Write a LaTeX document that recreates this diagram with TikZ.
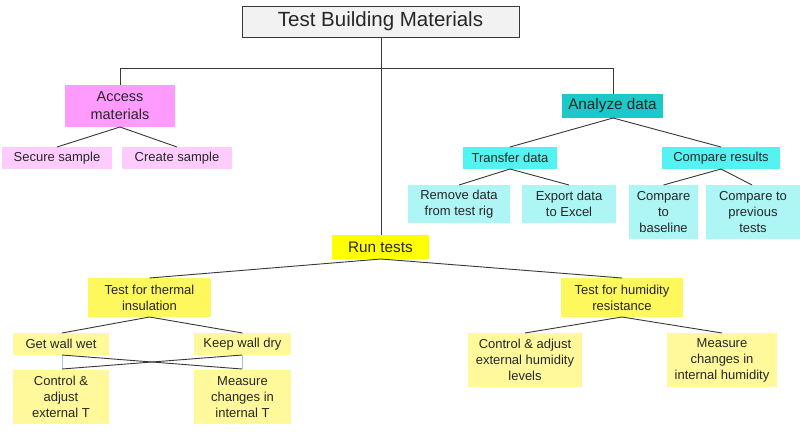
\documentclass[tikz,border=0pt]{standalone}
\usepackage{fontspec}
\setmainfont{Liberation Sans}
\definecolor{titlefill}{HTML}{F2F2F2}
\definecolor{pinkA}{HTML}{FF9BFF}
\definecolor{pinkB}{HTML}{FFCCFF}
\definecolor{tealA}{HTML}{1CC8C8}
\definecolor{cyanB}{HTML}{55F2F2}
\definecolor{cyanC}{HTML}{AEF5F5}
\definecolor{yelA}{HTML}{FFFF00}
\definecolor{yelB}{HTML}{FFF85C}
\definecolor{yelC}{HTML}{FFF99C}
\definecolor{linecol}{HTML}{383838}
\definecolor{bluish}{HTML}{A8C4DC}
\tikzset{
  box/.style={inner sep=0pt, outer sep=0pt, align=center, font=\fontsize{13}{16}\selectfont, text=black!85},
  bigtext/.style={font=\fontsize{14.5}{18}\selectfont},
  midtext/.style={font=\fontsize{15.3}{17}\selectfont},
  conn/.style={draw=linecol, line width=0.9pt},
}
\newcommand{\bx}[8][]{% [opts] name, x1, y1, x2, y2, fill, text
  \fill[#7] (#3,#4) rectangle (#5,#6);
  \node[box, #1, minimum width={(#5-#3)*1pt}, minimum height={(#6-#4)*1pt}] (#2) at ({(#3+#5)/2},{(#4+#6)/2}) {#8};
}
\begin{document}
\begin{tikzpicture}[x=1pt,y=-1pt]
\useasboundingbox (0,0) rectangle (800,445);
\fill[white] (0,0) rectangle (800,445);
% title
\draw[fill=titlefill, draw=linecol, line width=0.9pt] (242,6) rectangle (519,37);
\node[box, font=\fontsize{20.5}{23}\selectfont, minimum width=277pt, minimum height=31pt] (title) at (380.5,21.5) {Test Building Materials};
% boxes
\bx[bigtext]{access}{65}{85}{175}{127}{pinkA}{Access\\materials}
\bx{secure}{2}{147}{112}{169}{pinkB}{Secure sample}
\bx{create}{122}{147}{232}{169}{pinkB}{Create sample}
\bx[midtext]{analyze}{562}{94}{663}{118}{tealA}{Analyze data}
\bx{transfer}{463}{147}{557}{169}{cyanB}{Transfer data}
\bx{compres}{662}{147}{780}{169}{cyanB}{Compare results}
\bx{remove}{408}{185}{510}{223}{cyanC}{Remove data\\from test rig}
\bx{export}{522}{185}{616}{223}{cyanC}{Export data\\to Excel}
\bx{baseline}{629}{185}{698}{239}{cyanC}{Compare\\to\\baseline}
\bx{previous}{706}{185}{800}{239}{cyanC}{Compare to\\previous\\tests}
\bx[midtext]{run}{332}{235}{429}{259}{yelA}{Run tests}
\bx{thermal}{88}{278}{211}{317}{yelB}{Test for thermal\\insulation}
\bx{humid}{561}{278}{683}{317}{yelB}{Test for humidity\\resistance}
\bx{wet}{13}{333}{109}{355}{yelC}{Get wall wet}
\bx{dry}{194}{333}{291}{355}{yelC}{Keep wall dry}
\bx{ctrlT}{13}{370}{109}{424}{yelC}{Control \&\\adjust\\external T}
\bx{measT}{194}{370}{291}{424}{yelC}{Measure\\changes in\\internal T}
\bx{ctrlH}{468}{333}{582}{387}{yelC}{Control \& adjust\\external humidity\\levels}
\bx{measH}{667}{333}{777}{387}{yelC}{Measure\\changes in\\internal humidity}
% coordinates
\coordinate (barL) at (120,68);
\coordinate (barR) at (613,68);
\coordinate (barM) at (381,68);
% top connectors
\draw[conn] (title.south -| barM) -- (run.north -| barM);
\draw[conn] (access.north) -- (barL) -- (barR) -- (analyze.north -| barR);
% access
\draw[conn] (access.south) -- (secure.north);
\draw[conn] (access.south) -- (create.north);
% analyze
\draw[conn] (analyze.south -| barR) -- (transfer.north);
\draw[conn] (analyze.south -| barR) -- (compres.north);
\draw[conn] (transfer.south) -- (remove.north);
\draw[conn] (transfer.south) -- (export.north);
\draw[conn] (compres.south) -- (baseline.north);
\draw[conn] (compres.south) -- (previous.north -| 752,0);
% run tests
\draw[conn] (run.south -| barM) -- (thermal.north);
\draw[conn] (run.south -| barM) -- (humid.north);
\draw[conn] (thermal.south) -- (wet.north -| 62,0);
\draw[conn] (thermal.south) -- (dry.north);
\draw[conn] (humid.south) -- (ctrlH.north);
\draw[conn] (humid.south) -- (measH.north);
% crossing
\coordinate (wb) at (62,355);
\coordinate (db) at (242,355);
\coordinate (ct) at (62,369);
\coordinate (mt) at (242,369);
\draw[bluish, line width=0.8pt] (wb) -- (ct);
\draw[bluish, line width=0.8pt] (db) -- (mt);
\draw[conn] (wb) -- (mt);
\draw[conn] (db) -- (ct);
\end{tikzpicture}
\end{document}
